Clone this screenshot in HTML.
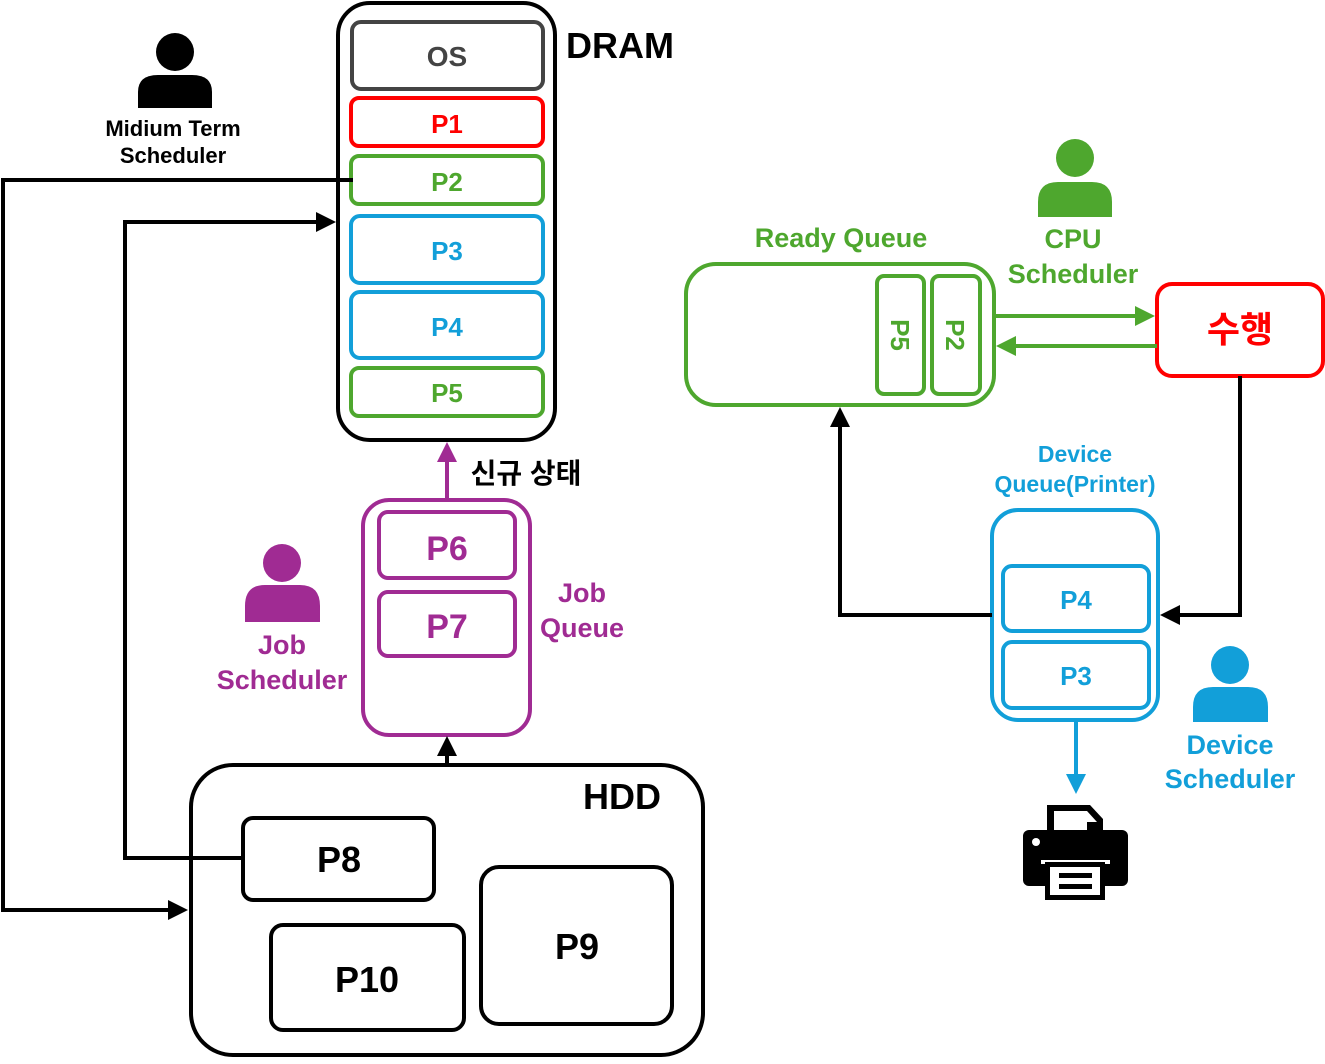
<!DOCTYPE html>
<html><head><meta charset="utf-8"><style>
html,body{margin:0;padding:0;background:#fff;}
svg text{font-family:"Liberation Sans","Noto Sans CJK KR",sans-serif;font-weight:bold;text-anchor:middle;}
</style></head><body>
<svg width="1325" height="1059" viewBox="0 0 1325 1059" xmlns="http://www.w3.org/2000/svg">
<defs>
<marker id="ak" markerWidth="5" markerHeight="5" refX="4" refY="2.5" orient="auto" markerUnits="strokeWidth"><path d="M0,0 L5,2.5 L0,5 z" fill="#000"/></marker>
<marker id="ag" markerWidth="5" markerHeight="5" refX="4" refY="2.5" orient="auto" markerUnits="strokeWidth"><path d="M0,0 L5,2.5 L0,5 z" fill="#4ea72e"/></marker>
<marker id="ab" markerWidth="5" markerHeight="5" refX="4" refY="2.5" orient="auto" markerUnits="strokeWidth"><path d="M0,0 L5,2.5 L0,5 z" fill="#129fd9"/></marker>
<marker id="ap" markerWidth="5" markerHeight="5" refX="4" refY="2.5" orient="auto" markerUnits="strokeWidth"><path d="M0,0 L5,2.5 L0,5 z" fill="#a02b93"/></marker>
</defs>
<!-- DRAM -->
<rect x="338" y="3" width="217" height="437" rx="32" fill="#fff" stroke="#000" stroke-width="4"/>
<rect x="352" y="22" width="191" height="67" rx="9" fill="#fff" stroke="#444" stroke-width="4"/>
<text x="447" y="66" font-size="28" fill="#444">OS</text>
<rect x="351" y="98" width="192" height="48" rx="8" fill="#fff" stroke="#f00" stroke-width="4"/>
<text x="447" y="133" font-size="26" fill="#f00">P1</text>
<rect x="351" y="156" width="192" height="48" rx="8" fill="#fff" stroke="#4ea72e" stroke-width="4"/>
<text x="447" y="191" font-size="26" fill="#4ea72e">P2</text>
<rect x="351" y="216" width="192" height="67" rx="9" fill="#fff" stroke="#129fd9" stroke-width="4"/>
<text x="447" y="260" font-size="26" fill="#129fd9">P3</text>
<rect x="351" y="292" width="192" height="66" rx="9" fill="#fff" stroke="#129fd9" stroke-width="4"/>
<text x="447" y="336" font-size="26" fill="#129fd9">P4</text>
<rect x="351" y="368" width="192" height="48" rx="8" fill="#fff" stroke="#4ea72e" stroke-width="4"/>
<text x="447" y="402" font-size="26" fill="#4ea72e">P5</text>
<text x="620" y="58" font-size="36" fill="#000">DRAM</text>
<!-- medium person -->
<circle cx="175" cy="52" r="19" fill="#000"/>
<path d="M138,108 L138,92 Q138,75 158,75 L192,75 Q212,75 212,92 L212,108 z" fill="#000"/>
<text x="173" y="136" font-size="22" fill="#000">Midium Term</text>
<text x="173" y="163" font-size="22" fill="#000">Scheduler</text>
<!-- job queue -->
<rect x="363" y="500" width="167" height="235" rx="26" fill="#fff" stroke="#a02b93" stroke-width="4"/>
<rect x="379" y="512" width="136" height="66" rx="9" fill="#fff" stroke="#a02b93" stroke-width="4"/>
<text x="447" y="560" font-size="34" fill="#a02b93">P6</text>
<rect x="379" y="592" width="136" height="64" rx="9" fill="#fff" stroke="#a02b93" stroke-width="4"/>
<text x="447" y="638" font-size="34" fill="#a02b93">P7</text>
<text x="526" y="483" font-size="28" fill="#000">신규 상태</text>
<text x="582" y="602" font-size="27" fill="#a02b93">Job</text>
<text x="582" y="637" font-size="27" fill="#a02b93">Queue</text>
<circle cx="282" cy="563" r="19" fill="#a02b93"/>
<path d="M245,622 L245,606 Q245,585 265,585 L300,585 Q320,585 320,606 L320,622 z" fill="#a02b93"/>
<text x="282" y="654" font-size="27" fill="#a02b93">Job</text>
<text x="282" y="689" font-size="27" fill="#a02b93">Scheduler</text>
<!-- HDD -->
<rect x="191" y="765" width="512" height="290" rx="42" fill="#fff" stroke="#000" stroke-width="4"/>
<text x="622" y="809" font-size="36" fill="#000">HDD</text>
<rect x="243" y="818" width="191" height="82" rx="10" fill="#fff" stroke="#000" stroke-width="4"/>
<text x="339" y="872" font-size="36" fill="#000">P8</text>
<rect x="271" y="925" width="193" height="105" rx="12" fill="#fff" stroke="#000" stroke-width="4"/>
<text x="367" y="992" font-size="36" fill="#000">P10</text>
<rect x="481" y="867" width="191" height="157" rx="18" fill="#fff" stroke="#000" stroke-width="4"/>
<text x="577" y="959" font-size="36" fill="#000">P9</text>
<!-- ready queue -->
<rect x="686" y="264" width="308" height="141" rx="30" fill="#fff" stroke="#4ea72e" stroke-width="4"/>
<rect x="877" y="276" width="47" height="118" rx="7" fill="#fff" stroke="#4ea72e" stroke-width="4"/>
<rect x="932" y="276" width="48" height="118" rx="7" fill="#fff" stroke="#4ea72e" stroke-width="4"/>
<text transform="translate(891,335) rotate(90)" font-size="26" fill="#4ea72e">P5</text>
<text transform="translate(946,335) rotate(90)" font-size="26" fill="#4ea72e">P2</text>
<text x="841" y="247" font-size="27" fill="#4ea72e">Ready Queue</text>
<circle cx="1075" cy="158" r="19" fill="#4ea72e"/>
<path d="M1038,217 L1038,202 Q1038,182 1058,182 L1092,182 Q1112,182 1112,202 L1112,217 z" fill="#4ea72e"/>
<text x="1073" y="248" font-size="27" fill="#4ea72e">CPU</text>
<text x="1073" y="283" font-size="27" fill="#4ea72e">Scheduler</text>
<rect x="1157" y="284" width="166" height="92" rx="15" fill="#fff" stroke="#f00" stroke-width="4"/>
<text x="1240" y="342" font-size="36" fill="#f00">수행</text>
<!-- device queue -->
<text x="1075" y="462" font-size="23" fill="#129fd9">Device</text>
<text x="1075" y="492" font-size="23" fill="#129fd9">Queue(Printer)</text>
<rect x="992" y="510" width="166" height="210" rx="26" fill="#fff" stroke="#129fd9" stroke-width="4"/>
<rect x="1003" y="566" width="146" height="65" rx="9" fill="#fff" stroke="#129fd9" stroke-width="4"/>
<text x="1076" y="609" font-size="26" fill="#129fd9">P4</text>
<rect x="1003" y="642" width="146" height="66" rx="9" fill="#fff" stroke="#129fd9" stroke-width="4"/>
<text x="1076" y="685" font-size="26" fill="#129fd9">P3</text>
<circle cx="1230" cy="665" r="19" fill="#129fd9"/>
<path d="M1193,722 L1193,707 Q1193,687 1213,687 L1248,687 Q1268,687 1268,707 L1268,722 z" fill="#129fd9"/>
<text x="1230" y="754" font-size="27" fill="#129fd9">Device</text>
<text x="1230" y="788" font-size="27" fill="#129fd9">Scheduler</text>
<!-- printer -->
<path d="M1047,805 L1090,805 L1103,819 L1103,835 L1047,835 z" fill="#000"/>
<path d="M1054,811 L1087,811 L1087,833 L1054,833 z" fill="#fff"/>
<path d="M1087,811 L1097,822 L1087,822 z" fill="#fff"/>
<rect x="1023" y="830" width="105" height="56" rx="6" fill="#000"/>
<circle cx="1036" cy="842" r="4" fill="#fff"/>
<rect x="1041" y="860" width="69" height="4" fill="#fff"/>
<rect x="1045" y="862" width="60" height="38" fill="#000"/>
<rect x="1050" y="867" width="50" height="28" fill="#fff"/>
<rect x="1059" y="873" width="33" height="5" fill="#000"/>
<rect x="1059" y="884" width="33" height="5" fill="#000"/>
<!-- connectors -->
<g fill="none" stroke-width="4">
<polyline points="353,180 3,180 3,910 184,910" stroke="#000" marker-end="url(#ak)"/>
<polyline points="243,858 125,858 125,222 332,222" stroke="#000" marker-end="url(#ak)"/>
<line x1="447" y1="500" x2="447" y2="446" stroke="#a02b93" marker-end="url(#ap)"/>
<line x1="447" y1="765" x2="447" y2="740" stroke="#000" marker-end="url(#ak)"/>
<line x1="994" y1="316" x2="1151" y2="316" stroke="#4ea72e" marker-end="url(#ag)"/>
<line x1="1157" y1="346" x2="1000" y2="346" stroke="#4ea72e" marker-end="url(#ag)"/>
<polyline points="1240,376 1240,615 1164,615" stroke="#000" marker-end="url(#ak)"/>
<polyline points="992,615 840,615 840,411" stroke="#000" marker-end="url(#ak)"/>
<line x1="1076" y1="720" x2="1076" y2="790" stroke="#129fd9" marker-end="url(#ab)"/>
</g>
</svg>
</body></html>
